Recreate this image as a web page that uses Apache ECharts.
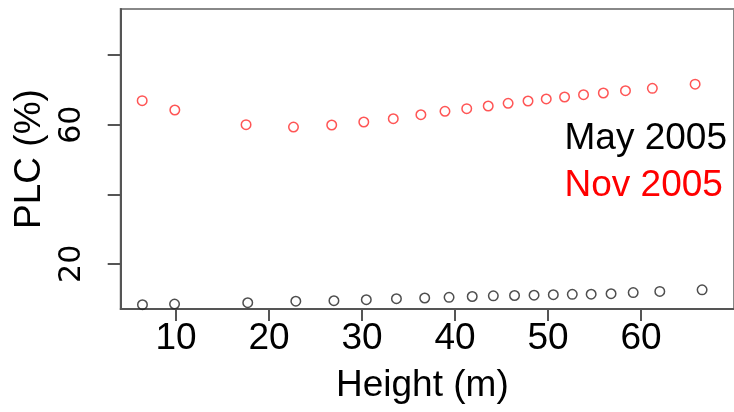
<!DOCTYPE html>
<html>
<head>
<meta charset="utf-8">
<script src="https://cdn.jsdelivr.net/npm/echarts@6/dist/echarts.min.js"></script>
<style>
html,body{margin:0;padding:0;background:#fff;}
#chart{width:734px;height:412px;}
</style>
</head>
<body>
<div id="chart"></div>
<script>
// Data
const mayHeight = [6.39, 9.84, 17.71, 22.88, 26.98, 30.46, 33.70, 36.74, 39.36, 41.85, 44.12, 46.40, 48.50, 50.57, 52.61, 54.64, 56.78, 59.16, 62.02, 66.57];
const mayPLC    = [8.25, 8.45, 8.83, 9.26, 9.40, 9.69, 9.98, 10.18, 10.38, 10.61, 10.81, 10.90, 10.98, 11.13, 11.24, 11.27, 11.41, 11.73, 12.08, 12.54];
const novHeight = [6.36, 9.87, 17.53, 22.63, 26.74, 30.19, 33.36, 36.33, 38.92, 41.26, 43.57, 45.71, 47.85, 49.81, 51.78, 53.82, 55.95, 58.33, 61.22, 65.82];
const novPLC    = [66.91, 64.23, 60.01, 59.34, 59.92, 60.78, 61.73, 62.88, 63.86, 64.61, 65.38, 66.16, 66.82, 67.40, 67.97, 68.63, 69.12, 69.78, 70.47, 71.65];
const xTicks = [10, 20, 30, 40, 50, 60];
const yTicks = [20, 40, 60, 80];
const yTickLabels = [20, 60];
const seriesNames = ['May 2005', 'Nov 2005'];

const FONT = 'Liberation Sans';
const chart = echarts.init(document.getElementById('chart'), null, {renderer: 'canvas'});

function zip(a, b) { return a.map((v, i) => [v, b[i]]); }

const option = {
  animation: false,
  backgroundColor: '#fff',
  grid: {
    left: 120.7, top: 9, bottom: 103, right: -24.1,
    show: true, borderColor: '#888', borderWidth: 2, backgroundColor: 'transparent'
  },
  legend: {
    orient: 'vertical',
    right: 7, top: 120,
    padding: 0,
    icon: 'none',
    itemWidth: 0, itemHeight: 10, itemGap: 10,
    selectedMode: false,
    textStyle: {fontSize: 37, fontFamily: FONT},
    data: [
      {name: seriesNames[0], textStyle: {color: '#000'}},
      {name: seriesNames[1], textStyle: {color: '#ff0000'}}
    ]
  },
  xAxis: {
    type: 'value',
    min: 4.05, max: 70,
    name: 'Height (m)',
    nameLocation: 'middle',
    nameGap: 58,
    nameTextStyle: {fontSize: 37, fontFamily: FONT, color: '#000', padding: [0, 10, 0, 0]},
    axisLine: {show: true, lineStyle: {color: '#555', width: 2}},
    axisTick: {show: true, inside: false, length: 12, customValues: xTicks, lineStyle: {color: '#555', width: 2}},
    axisLabel: {show: true, margin: 11.5, fontSize: 37, fontFamily: FONT, color: '#000', customValues: xTicks},
    splitLine: {show: false}
  },
  yAxis: {
    type: 'value',
    min: 7.02, max: 93.27,
    name: 'PLC (%)',
    nameLocation: 'middle',
    nameGap: 72,
    nameTextStyle: {fontSize: 37, fontFamily: FONT, color: '#000'},
    axisLine: {show: true, lineStyle: {color: '#555', width: 2}},
    axisTick: {show: true, inside: false, length: 13, customValues: yTicks, lineStyle: {color: '#555', width: 2}},
    axisLabel: {show: true, rotate: 90, margin: 33, fontSize: 30, fontFamily: 'DejaVu Sans', color: '#000', customValues: yTickLabels},
    splitLine: {show: false}
  },
  series: [
    {
      name: seriesNames[0], type: 'scatter',
      data: zip(mayHeight, mayPLC),
      symbol: 'circle', symbolSize: 9.5,
      itemStyle: {color: 'rgba(255,255,255,0)', borderColor: '#222', borderWidth: 1.5},
      emphasis: {disabled: true}
    },
    {
      name: seriesNames[1], type: 'scatter',
      data: zip(novHeight, novPLC),
      symbol: 'circle', symbolSize: 9.5,
      itemStyle: {color: 'rgba(255,255,255,0)', borderColor: '#ff2a2a', borderWidth: 1.5},
      emphasis: {disabled: true}
    }
  ]
};
chart.setOption(option);
</script>
</body>
</html>
